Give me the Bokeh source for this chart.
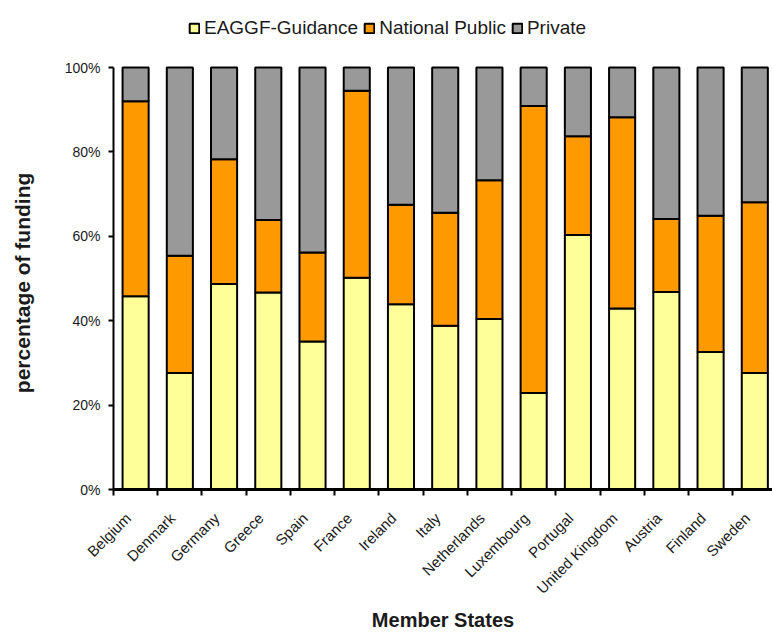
import math
from bokeh.plotting import figure
from bokeh.models import Range1d, FixedTicker, PrintfTickFormatter, Legend, ColumnDataSource
from bokeh.embed import file_html
from bokeh.resources import INLINE

countries = ["Belgium", "Denmark", "Germany", "Greece", "Spain", "France", "Ireland",
             "Italy", "Netherlands", "Luxembourg", "Portugal", "United Kingdom",
             "Austria", "Finland", "Sweden"]
eaggf = [45.8, 27.6, 48.7, 46.7, 35.1, 50.2, 43.9, 38.8, 40.4, 22.9, 60.3, 42.9, 46.8, 32.6, 27.6]
national = [46.2, 27.8, 29.6, 17.2, 21.1, 44.3, 23.6, 26.8, 32.9, 68.0, 23.4, 45.3, 17.3, 32.3, 40.5]
private = [8.0, 44.6, 21.7, 36.1, 43.8, 5.5, 32.5, 34.4, 26.7, 9.1, 16.3, 11.8, 35.9, 35.1, 31.9]
series = ["EAGGF-Guidance", "National Public", "Private"]
colors = ["#FFFF99", "#FF9900", "#999999"]
y_ticks = [0, 20, 40, 60, 80, 100]

x = list(range(len(countries)))
source = ColumnDataSource({"x": x, series[0]: eaggf, series[1]: national, series[2]: private})

FONT = "Liberation Sans"
TXT = "#1a1a1a"

# frame spans the top of the canvas down to the x axis; the space above 100% holds the legend
p = figure(width=772, height=635, output_backend="svg", toolbar_location=None,
           x_range=Range1d(-0.5, 14.4), y_range=Range1d(0, 115.9),
           min_border_left=113, min_border_right=0, min_border_top=0, min_border_bottom=146)

renderers = p.vbar_stack(series, x="x", width=0.59, fill_color=colors, line_color="black",
                         line_width=2, source=source)

legend = Legend(items=[(s, [r]) for s, r in zip(series, renderers)], orientation="horizontal",
                location=(75, 450), glyph_width=12, glyph_height=12, label_standoff=4,
                spacing=5, padding=4, margin=0, border_line_color=None,
                background_fill_alpha=0, label_text_font=FONT, label_text_font_size="19px",
                label_text_color=TXT)
p.add_layout(legend, "center")

p.xgrid.grid_line_color = None
p.ygrid.grid_line_color = None
p.outline_line_color = None

# rotated labels end just left of each bar's centre, as in the reference
label_shift = 0.17
label_pos = [round(i - label_shift, 2) for i in x]

xa = p.xaxis[0]
xa.ticker = FixedTicker(ticks=label_pos, minor_ticks=[i - 0.5 for i in x])
xa.major_label_overrides = {pos: c for pos, c in zip(label_pos, countries)}
xa.major_label_orientation = math.pi / 4
xa.major_tick_out = 0
xa.major_tick_in = 0
xa.minor_tick_out = 6
xa.minor_tick_in = 0
xa.minor_tick_line_width = 2
xa.minor_tick_line_color = "black"
xa.axis_line_width = 3
xa.axis_line_color = "black"
xa.major_label_text_font = FONT
xa.major_label_text_font_size = "15px"
xa.major_label_text_color = TXT
xa.major_label_standoff = 20
xa.axis_label = "Member States"
xa.axis_label_text_font = FONT
xa.axis_label_text_font_size = "20px"
xa.axis_label_text_font_style = "bold"
xa.axis_label_text_color = TXT
xa.axis_label_standoff = 3

ya = p.yaxis[0]
ya.bounds = (0, 100)
ya.ticker = FixedTicker(ticks=y_ticks, minor_ticks=[])
ya.formatter = PrintfTickFormatter(format="%d%%")
ya.major_tick_out = 5
ya.major_tick_in = 0
ya.major_tick_line_width = 2
ya.major_tick_line_color = "black"
ya.minor_tick_line_color = None
ya.axis_line_width = 2
ya.axis_line_color = "black"
ya.major_label_text_font = FONT
ya.major_label_text_font_size = "14px"
ya.major_label_text_color = TXT
ya.major_label_standoff = 8
# trailing non-breaking spaces centre the visible title on the 0-100% span
ya.axis_label = "percentage of funding" + "\u00a0" * 13
ya.axis_label_text_font = FONT
ya.axis_label_text_font_size = "21px"
ya.axis_label_text_font_style = "bold"
ya.axis_label_text_color = TXT
ya.axis_label_standoff = 28

open("out.html", "w").write(file_html(p, INLINE))
